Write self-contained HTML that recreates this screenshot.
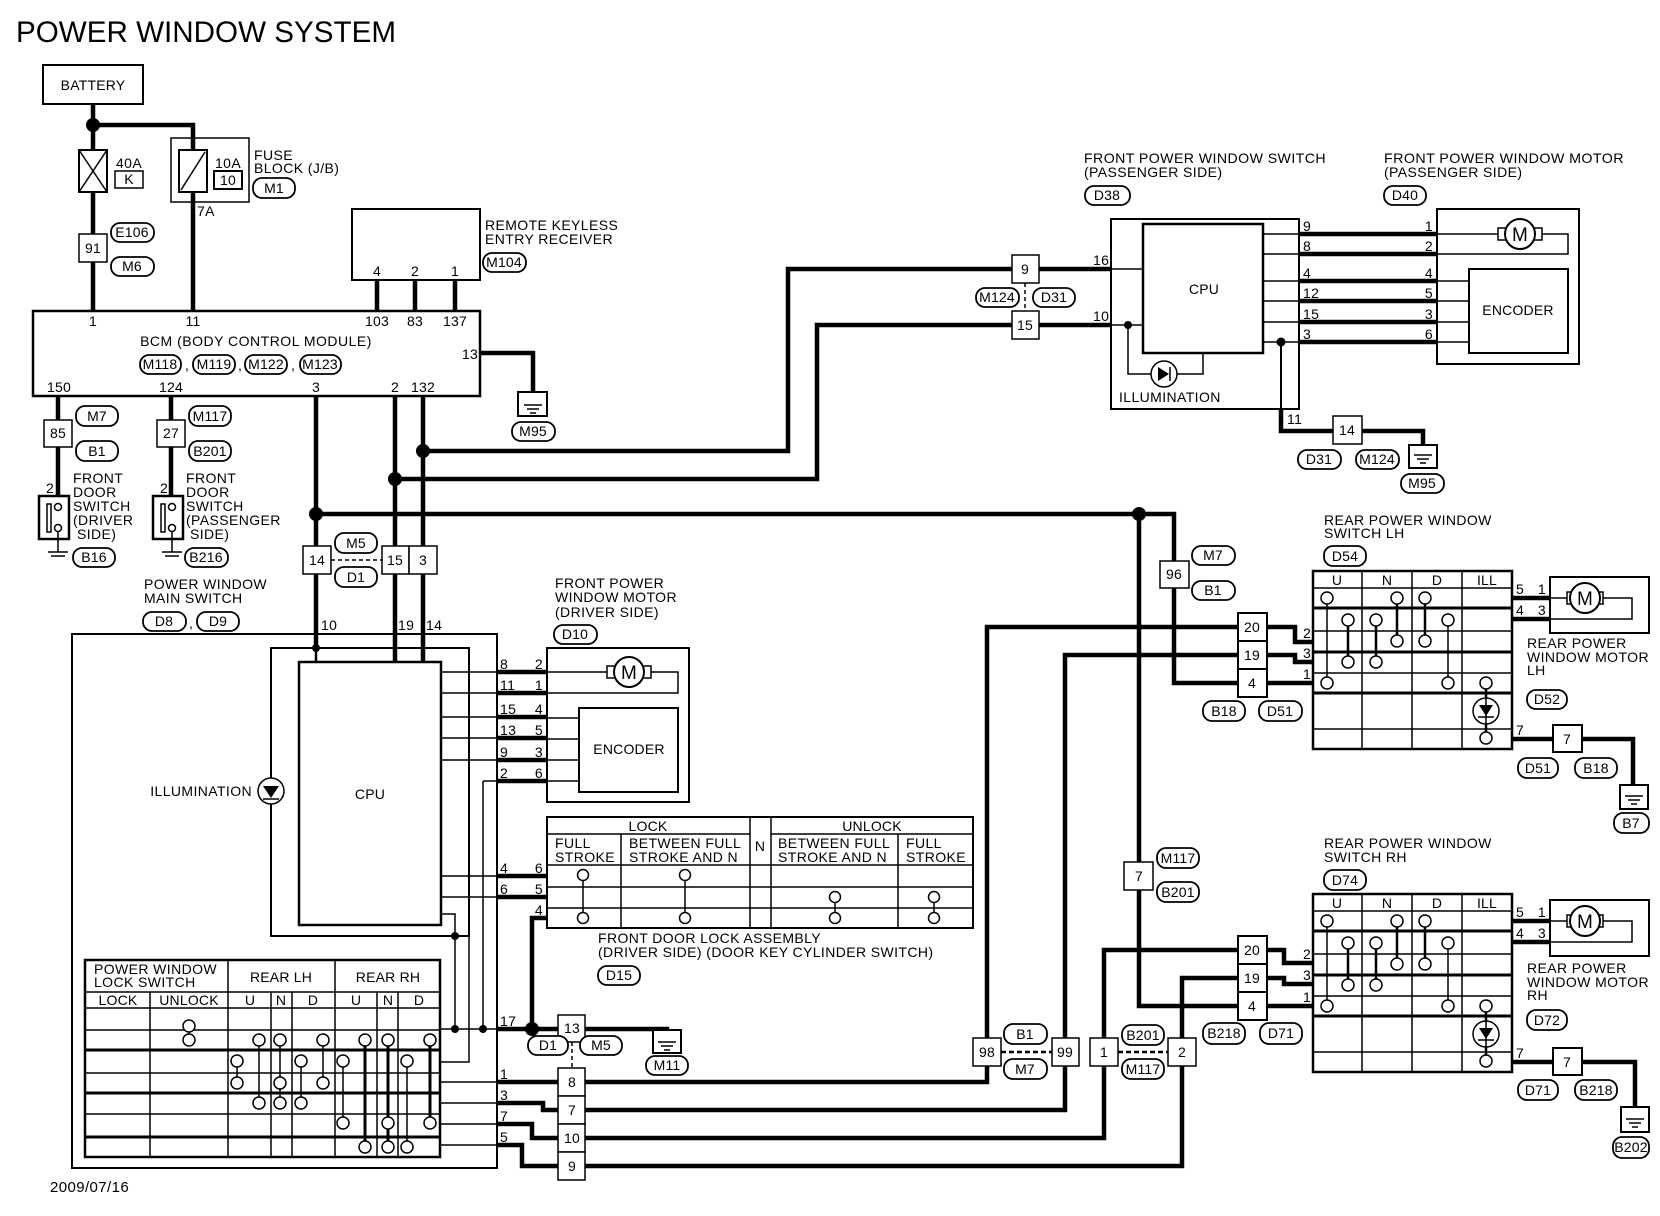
<!DOCTYPE html>
<html><head><meta charset="utf-8"><style>
body{margin:0;background:#fff}
svg{display:block}
text{font-family:"Liberation Sans",sans-serif;font-size:14px;letter-spacing:0.4px;fill:#000}
.c{text-anchor:middle;letter-spacing:0.2px}
.e{text-anchor:end}
.o{fill:#fff;stroke:#000;stroke-width:1.8}
.b{fill:#fff;stroke:#000;stroke-width:1.5}
.n{fill:none;stroke:#000;stroke-width:1.5}
.k{fill:none;stroke:#000;stroke-width:4.5}
.m{fill:none;stroke:#000;stroke-width:2.5}
.ci{fill:#fff;stroke:#000;stroke-width:1.5}
</style></head><body>
<svg width="1660" height="1216" viewBox="0 0 1660 1216" xmlns="http://www.w3.org/2000/svg">
<rect width="1660" height="1216" fill="#fff"/>
<text x="16" y="42" style="font-size:30px;letter-spacing:0" textLength="380" lengthAdjust="spacingAndGlyphs">POWER WINDOW SYSTEM</text>

<!-- battery & fuses -->
<rect x="43" y="65" width="100" height="39" class="n" style="stroke-width:2"/>
<text x="93" y="90" class="c" style="font-size:14px">BATTERY</text>
<path d="M93 104V150M93 192V311M93 125H193V311" class="k"/>
<circle cx="93" cy="125" r="7"/>
<rect x="79" y="150" width="28" height="42" class="b" style="stroke-width:2"/>
<path d="M79 150L107 192M107 150L79 192" class="n"/>
<text x="116" y="168">40A</text>
<rect x="115" y="171" width="28" height="17" class="b"/><text x="129" y="184" class="c">K</text>
<rect x="79" y="234" width="28" height="28" class="b"/><text x="93" y="253" class="c">91</text>
<rect x="111" y="223" width="43" height="19" rx="9" class="o"/><text x="132" y="237" class="c">E106</text>
<rect x="111" y="257" width="43" height="19" rx="9" class="o"/><text x="132" y="271" class="c">M6</text>
<rect x="171" y="138" width="78" height="64" class="b" style="fill:none"/>
<rect x="179" y="150" width="28" height="42" class="b" style="stroke-width:2"/>
<path d="M181 190L205 152" class="n"/>
<text x="215" y="168">10A</text>
<rect x="214" y="171" width="28" height="18" class="b" style="stroke-width:2"/><text x="228" y="185" class="c">10</text>
<text x="254" y="160">FUSE</text><text x="254" y="173">BLOCK (J/B)</text>
<rect x="253" y="178" width="42" height="20" rx="9" class="o"/><text x="274" y="193" class="c">M1</text>
<text x="197" y="216">7A</text>

<!-- remote keyless -->
<rect x="352" y="209" width="128" height="71" class="n" style="stroke-width:2"/>
<text x="377" y="276" class="c">4</text><text x="415" y="276" class="c">2</text><text x="455" y="276" class="c">1</text>
<path d="M377 280V311M415 280V311M455 280V311" class="k"/>
<text x="485" y="230">REMOTE KEYLESS</text><text x="485" y="244">ENTRY RECEIVER</text>
<rect x="483" y="253" width="43" height="19" rx="9" class="o"/><text x="504" y="267" class="c">M104</text>

<!-- BCM -->
<rect x="33" y="311" width="447" height="85" class="n" style="stroke-width:2.5"/>
<text x="93" y="326" class="c">1</text><text x="193" y="326" class="c">11</text><text x="377" y="326" class="c">103</text><text x="415" y="326" class="c">83</text><text x="455" y="326" class="c">137</text>
<text x="256" y="346" class="c" style="letter-spacing:0.5px">BCM (BODY CONTROL MODULE)</text>
<rect x="140" y="355" width="41" height="19" rx="9" class="o"/><text x="160" y="369" class="c">M118</text><text x="185" y="370">,</text>
<rect x="193" y="355" width="42" height="19" rx="9" class="o"/><text x="214" y="369" class="c">M119</text><text x="238" y="370">,</text>
<rect x="245" y="355" width="42" height="19" rx="9" class="o"/><text x="266" y="369" class="c">M122</text><text x="291" y="370">,</text>
<rect x="300" y="355" width="41" height="19" rx="9" class="o"/><text x="320" y="369" class="c">M123</text>
<text x="470" y="359" class="c">13</text>
<text x="59" y="392" class="c">150</text><text x="171" y="392" class="c">124</text><text x="316" y="392" class="c">3</text><text x="395" y="392" class="c">2</text><text x="423" y="392" class="c">132</text>
<path d="M480 353H533V405" class="k"/>
<rect x="518" y="392" width="29" height="24" class="b" style="stroke-width:2"/>
<path d="M524 405H542M527 409H539M530 413H536" class="n"/>
<rect x="512" y="422" width="43" height="19" rx="9" class="o"/><text x="533" y="436" class="c">M95</text>

<!-- door switches -->
<path d="M58 396V496M171 396V496" class="k"/>
<rect x="44" y="420" width="28" height="27" class="b"/><text x="58" y="438" class="c">85</text>
<rect x="76" y="406" width="42" height="20" rx="9" class="o"/><text x="97" y="421" class="c">M7</text>
<rect x="76" y="441" width="42" height="20" rx="9" class="o"/><text x="97" y="456" class="c">B1</text>
<rect x="157" y="420" width="28" height="27" class="b"/><text x="171" y="438" class="c">27</text>
<rect x="189" y="406" width="42" height="20" rx="9" class="o"/><text x="210" y="421" class="c">M117</text>
<rect x="189" y="441" width="42" height="20" rx="9" class="o"/><text x="210" y="456" class="c">B201</text>
<rect x="39" y="496" width="30" height="43" class="n" style="stroke-width:2.5"/>
<rect x="47" y="504" width="4" height="28" class="b"/>
<circle cx="58" cy="507" r="3.5" class="ci"/><circle cx="58" cy="528" r="3.5" class="ci"/>
<path d="M58 531V552M48 552H68M51 556H65" class="n"/>
<text x="50" y="493" class="c">2</text>
<text x="73" y="483">FRONT</text><text x="73" y="497">DOOR</text><text x="73" y="511">SWITCH</text><text x="73" y="525">(DRIVER</text><text x="77" y="539">SIDE)</text>
<rect x="73" y="548" width="42" height="19" rx="9" class="o"/><text x="94" y="562" class="c">B16</text>
<rect x="153" y="496" width="30" height="43" class="n" style="stroke-width:2.5"/>
<rect x="161" y="504" width="4" height="28" class="b"/>
<circle cx="172" cy="507" r="3.5" class="ci"/><circle cx="172" cy="528" r="3.5" class="ci"/>
<path d="M172 531V552M162 552H182M165 556H179" class="n"/>
<text x="164" y="493" class="c">2</text>
<text x="186" y="483">FRONT</text><text x="186" y="497">DOOR</text><text x="186" y="511">SWITCH</text><text x="186" y="525">(PASSENGER</text><text x="190" y="539">SIDE)</text>
<rect x="185" y="548" width="43" height="19" rx="9" class="o"/><text x="206" y="562" class="c">B216</text>

<!-- BCM output wires -->
<path d="M316 396V648M395 396V662M423 396V662" class="k"/>
<path d="M423 451H788V269H1012M1039 269H1111M395 479H817V325H1012M1039 325H1111M316 514H1174V683H1238M1139 514V1006H1238" class="k"/>
<circle cx="423" cy="451" r="7"/><circle cx="395" cy="479" r="7"/><circle cx="316" cy="514" r="7"/><circle cx="1139" cy="514" r="7"/>
<rect x="303" y="546" width="28" height="28" class="b"/><text x="317" y="565" class="c">14</text>
<rect x="382" y="546" width="27" height="28" class="b"/><text x="395" y="565" class="c">15</text>
<rect x="409" y="546" width="28" height="28" class="b"/><text x="423" y="565" class="c">3</text>
<path d="M331 560H382" class="n" style="stroke-dasharray:4 3"/>
<rect x="335" y="533" width="42" height="20" rx="9" class="o"/><text x="356" y="548" class="c">M5</text>
<rect x="335" y="567" width="42" height="20" rx="9" class="o"/><text x="356" y="582" class="c">D1</text>
<text x="144" y="589">POWER WINDOW</text><text x="144" y="603">MAIN SWITCH</text>
<rect x="143" y="612" width="43" height="19" rx="9" class="o"/><text x="164" y="626" class="c">D8</text><text x="189" y="628">,</text>
<rect x="197" y="612" width="42" height="19" rx="9" class="o"/><text x="218" y="626" class="c">D9</text>

<!-- main switch -->
<rect x="72" y="634" width="425" height="534" class="n" style="stroke-width:2"/>
<text x="321" y="630">10</text><text x="398" y="630">19</text><text x="426" y="630">14</text>
<rect x="271" y="648" width="198" height="288" class="n" style="stroke-width:2"/>
<circle cx="316" cy="648" r="4"/>
<path d="M316 648V662" class="m"/>
<rect x="299" y="662" width="142" height="263" class="n" style="stroke-width:2.5"/>
<text x="370" y="799" class="c">CPU</text>
<text x="252" y="796" class="e">ILLUMINATION</text>
<circle cx="271" cy="791" r="13" class="ci"/>
<path d="M263 786H279L271 798Z"/><path d="M263 799H279" class="n"/>
<path d="M441 672H497M441 693H497M441 717H497M441 738H497M441 760H497M483 781H497M483 781V1029M441 876H497M441 897H497M441 914H455V1029M469 936V1062H440" class="n"/>
<circle cx="455" cy="936" r="4"/><circle cx="455" cy="1029" r="4"/><circle cx="483" cy="1029" r="4"/>
<path d="M497 672H547M497 693H547M497 717H547M497 738H547M497 760H547M497 781H547M497 876H547M497 897H547M547 918H532V1029M497 1029H558" class="k"/>
<circle cx="532" cy="1029" r="7"/>
<g>
<text x="500" y="669">8</text><text x="543" y="669" class="e">2</text>
<text x="500" y="690">11</text><text x="543" y="690" class="e">1</text>
<text x="500" y="714">15</text><text x="543" y="714" class="e">4</text>
<text x="500" y="735">13</text><text x="543" y="735" class="e">5</text>
<text x="500" y="757">9</text><text x="543" y="757" class="e">3</text>
<text x="500" y="778">2</text><text x="543" y="778" class="e">6</text>
<text x="500" y="873">4</text><text x="543" y="873" class="e">6</text>
<text x="500" y="894">6</text><text x="543" y="894" class="e">5</text>
<text x="543" y="915" class="e">4</text>
<text x="500" y="1026">17</text>
</g>

<!-- front motor driver -->
<text x="555" y="588">FRONT POWER</text><text x="555" y="602">WINDOW MOTOR</text><text x="555" y="617">(DRIVER SIDE)</text>
<rect x="554" y="625" width="43" height="19" rx="9" class="o"/><text x="575" y="639" class="c">D10</text>
<rect x="547" y="648" width="142" height="154" class="n" style="stroke-width:2"/>
<path d="M547 672H607M651 672H678V693H547" class="n"/>
<rect x="607" y="666" width="8" height="12" class="b"/><rect x="643" y="666" width="8" height="12" class="b"/>
<circle cx="629" cy="672" r="15" class="ci" style="stroke-width:2"/><text x="629" y="679" class="c" style="font-size:19px">M</text>
<rect x="579" y="708" width="99" height="84" class="n" style="stroke-width:2"/>
<path d="M547 718H579M547 739H579M547 760H579M547 781H579" class="n"/>
<text x="629" y="754" class="c">ENCODER</text>

<!-- door lock table -->
<rect x="547" y="817" width="426" height="111" class="n" style="stroke-width:2"/>
<path d="M547 834H750M771 834H973M547 865H973M547 887H973M547 908H973M621 834V928M750 817V928M771 817V928M898 834V928" class="n"/>
<text x="648" y="831" class="c">LOCK</text><text x="872" y="831" class="c">UNLOCK</text><text x="760" y="851" class="c">N</text>
<text x="555" y="848">FULL</text><text x="555" y="862">STROKE</text>
<text x="629" y="848">BETWEEN FULL</text><text x="629" y="862">STROKE AND N</text>
<text x="778" y="848">BETWEEN FULL</text><text x="778" y="862">STROKE AND N</text>
<text x="906" y="848">FULL</text><text x="906" y="862">STROKE</text>
<path d="M583 875V918M685 875V918M835 897V918M934 897V918" class="n"/>
<circle cx="583" cy="875" r="5.5" class="ci"/><circle cx="583" cy="918" r="5.5" class="ci"/>
<circle cx="685" cy="875" r="5.5" class="ci"/><circle cx="685" cy="918" r="5.5" class="ci"/>
<circle cx="835" cy="897" r="5.5" class="ci"/><circle cx="835" cy="918" r="5.5" class="ci"/>
<circle cx="934" cy="897" r="5.5" class="ci"/><circle cx="934" cy="918" r="5.5" class="ci"/>
<text x="598" y="943">FRONT DOOR LOCK ASSEMBLY</text><text x="598" y="957">(DRIVER SIDE) (DOOR KEY CYLINDER SWITCH)</text>
<rect x="598" y="966" width="42" height="19" rx="9" class="o"/><text x="619" y="980" class="c">D15</text>

<!-- lock switch table -->
<rect x="85" y="960" width="355" height="197" class="n" style="stroke-width:2.5"/>
<path d="M85 992H440M85 1008H440M85 1030H440M85 1073H440M85 1114H440M150 992V1157M228 960V1157M335 960V1157M271 992V1157M292 992V1157M377 992V1157M398 992V1157" class="n"/>
<path d="M85 1050H440M85 1093H440M85 1137H440" class="n" style="stroke-width:3"/>
<text x="94" y="974">POWER WINDOW</text><text x="94" y="987">LOCK SWITCH</text>
<text x="281" y="982" class="c">REAR LH</text><text x="388" y="982" class="c">REAR RH</text>
<text x="118" y="1005" class="c">LOCK</text><text x="189" y="1005" class="c">UNLOCK</text>
<text x="250" y="1005" class="c">U</text><text x="281" y="1005" class="c">N</text><text x="313" y="1005" class="c">D</text>
<text x="356" y="1005" class="c">U</text><text x="388" y="1005" class="c">N</text><text x="419" y="1005" class="c">D</text>
<path d="M189 1026V1040M237 1061V1083M259 1040V1103M280 1040V1103M301 1061V1103M323 1040V1083M343 1061V1123M407 1061V1147" class="n"/>
<path d="M365 1040V1147M388 1040V1147M430 1040V1123" class="n" style="stroke-width:3"/>
<g class="ci">
<circle cx="189" cy="1026" r="6"/><circle cx="189" cy="1040" r="6"/>
<circle cx="259" cy="1040" r="6"/><circle cx="280" cy="1040" r="6"/><circle cx="323" cy="1040" r="6"/><circle cx="365" cy="1040" r="6"/><circle cx="388" cy="1040" r="6"/><circle cx="430" cy="1040" r="6"/>
<circle cx="237" cy="1061" r="6"/><circle cx="301" cy="1061" r="6"/><circle cx="343" cy="1061" r="6"/><circle cx="407" cy="1061" r="6"/>
<circle cx="237" cy="1083" r="6"/><circle cx="280" cy="1083" r="6"/><circle cx="323" cy="1083" r="6"/>
<circle cx="259" cy="1103" r="6"/><circle cx="280" cy="1103" r="6"/><circle cx="301" cy="1103" r="6"/>
<circle cx="343" cy="1123" r="6"/><circle cx="388" cy="1123" r="6"/><circle cx="430" cy="1123" r="6"/>
<circle cx="365" cy="1147" r="6"/><circle cx="388" cy="1147" r="6"/><circle cx="407" cy="1147" r="6"/>
</g>
<path d="M440 1029H497M440 1082H497M440 1103H497M440 1124H497M440 1145H497" class="n"/>
<path d="M497 1082H558M497 1103H543V1110H558M497 1124H532V1138H558M497 1145H522V1166H558" class="k"/>
<text x="500" y="1079">1</text><text x="500" y="1100">3</text><text x="500" y="1121">7</text><text x="500" y="1142">5</text>

<!-- connectors bottom -->
<rect x="558" y="1015" width="27" height="27" class="b"/><text x="572" y="1033" class="c">13</text>
<path d="M572 1042V1068" class="n" style="stroke-dasharray:4 3"/>
<rect x="528" y="1036" width="40" height="19" rx="9" class="o"/><text x="548" y="1050" class="c">D1</text>
<rect x="580" y="1036" width="42" height="19" rx="9" class="o"/><text x="601" y="1050" class="c">M5</text>
<path d="M585 1029H667V1042" class="k"/>
<rect x="653" y="1030" width="28" height="23" class="b" style="stroke-width:2"/>
<path d="M658 1042H676M661 1046H673M664 1050H670" class="n"/>
<rect x="646" y="1056" width="42" height="19" rx="9" class="o"/><text x="667" y="1070" class="c">M11</text>
<rect x="558" y="1068" width="27" height="28" class="b"/><text x="572" y="1087" class="c">8</text>
<rect x="558" y="1096" width="27" height="28" class="b"/><text x="572" y="1115" class="c">7</text>
<rect x="558" y="1124" width="27" height="28" class="b"/><text x="572" y="1143" class="c">10</text>
<rect x="558" y="1152" width="27" height="28" class="b"/><text x="572" y="1171" class="c">9</text>
<path d="M585 1082H987V1066M585 1110H1065V1066M585 1138H1104V1066M585 1166H1182V1066" class="k"/>
<path d="M987 1038V627H1238M1065 1038V655H1238M1104 1038V950H1238M1182 1038V978H1238" class="k"/>
<rect x="973" y="1038" width="28" height="28" class="b"/><text x="987" y="1057" class="c">98</text>
<rect x="1052" y="1038" width="27" height="28" class="b"/><text x="1065" y="1057" class="c">99</text>
<path d="M1001 1052H1052M1118 1052H1168" class="n" style="stroke-dasharray:5 3;stroke-width:2.5"/>
<rect x="1004" y="1024" width="43" height="20" rx="9" class="o"/><text x="1025" y="1039" class="c">B1</text>
<rect x="1004" y="1059" width="43" height="20" rx="9" class="o"/><text x="1025" y="1074" class="c">M7</text>
<rect x="1090" y="1038" width="28" height="28" class="b"/><text x="1104" y="1057" class="c">1</text>
<rect x="1168" y="1038" width="28" height="28" class="b"/><text x="1182" y="1057" class="c">2</text>
<rect x="1122" y="1025" width="42" height="20" rx="9" class="o"/><text x="1143" y="1040" class="c">B201</text>
<rect x="1122" y="1059" width="42" height="20" rx="9" class="o"/><text x="1143" y="1074" class="c">M117</text>

<!-- middle connectors 96 / 7 -->
<rect x="1160" y="561" width="29" height="27" class="b"/><text x="1174" y="579" class="c">96</text>
<rect x="1192" y="546" width="43" height="19" rx="9" class="o"/><text x="1213" y="560" class="c">M7</text>
<rect x="1192" y="581" width="43" height="19" rx="9" class="o"/><text x="1213" y="595" class="c">B1</text>
<rect x="1124" y="862" width="29" height="28" class="b"/><text x="1139" y="881" class="c">7</text>
<rect x="1157" y="848" width="42" height="20" rx="9" class="o"/><text x="1178" y="863" class="c">M117</text>
<rect x="1157" y="882" width="42" height="20" rx="9" class="o"/><text x="1178" y="897" class="c">B201</text>

<!-- front passenger switch -->
<text x="1084" y="163" textLength="242" lengthAdjust="spacingAndGlyphs">FRONT POWER WINDOW SWITCH</text>
<text x="1084" y="177">(PASSENGER SIDE)</text>
<rect x="1085" y="186" width="45" height="19" rx="9" class="o"/><text x="1107" y="200" class="c">D38</text>
<text x="1384" y="163" textLength="240" lengthAdjust="spacingAndGlyphs">FRONT POWER WINDOW MOTOR</text>
<text x="1384" y="177">(PASSENGER SIDE)</text>
<rect x="1384" y="186" width="42" height="19" rx="9" class="o"/><text x="1405" y="200" class="c">D40</text>
<rect x="1012" y="255" width="27" height="28" class="b"/><text x="1025" y="274" class="c">9</text>
<rect x="1012" y="311" width="27" height="28" class="b"/><text x="1025" y="330" class="c">15</text>
<path d="M1025 283V311" class="n" style="stroke-dasharray:4 3"/>
<rect x="976" y="288" width="43" height="19" rx="9" class="o"/><text x="997" y="302" class="c">M124</text>
<rect x="1033" y="288" width="42" height="19" rx="9" class="o"/><text x="1054" y="302" class="c">D31</text>
<text x="1093" y="265">16</text><text x="1093" y="321">10</text>
<rect x="1111" y="219" width="188" height="190" class="n" style="stroke-width:2"/>
<rect x="1143" y="224" width="120" height="129" class="n" style="stroke-width:2.5"/>
<text x="1204" y="294" class="c">CPU</text>
<path d="M1111 269H1143M1111 325H1143M1128 325V374H1151M1177 374H1203V353M1263 234H1299M1263 254H1299M1263 281H1299M1263 301H1299M1263 322H1299M1263 342H1299" class="n"/>
<circle cx="1128" cy="325" r="4"/>
<circle cx="1164" cy="374" r="13" class="ci"/>
<path d="M1158 367V381L1169 374Z"/><path d="M1170 367V381" class="n"/>
<text x="1119" y="402">ILLUMINATION</text>
<path d="M1299 234H1437M1299 254H1437M1299 281H1437M1299 301H1437M1299 322H1437M1299 342H1437" class="k"/>
<circle cx="1281" cy="342" r="4.5"/>
<path d="M1281 342V409" class="n" style="stroke-width:2"/>
<path d="M1281 409V431H1333M1362 431H1423V455" class="k"/>
<text x="1287" y="424">11</text>
<rect x="1333" y="416" width="29" height="28" class="b"/><text x="1347" y="435" class="c">14</text>
<rect x="1409" y="445" width="28" height="23" class="b" style="stroke-width:2"/>
<path d="M1414 455H1432M1417 459H1429M1420 463H1426" class="n"/>
<rect x="1298" y="450" width="43" height="19" rx="9" class="o"/><text x="1319" y="464" class="c">D31</text>
<rect x="1356" y="450" width="43" height="19" rx="9" class="o"/><text x="1377" y="464" class="c">M124</text>
<rect x="1401" y="474" width="43" height="19" rx="9" class="o"/><text x="1422" y="488" class="c">M95</text>
<g>
<text x="1303" y="231">9</text><text x="1433" y="231" class="e">1</text>
<text x="1303" y="251">8</text><text x="1433" y="251" class="e">2</text>
<text x="1303" y="278">4</text><text x="1433" y="278" class="e">4</text>
<text x="1303" y="298">12</text><text x="1433" y="298" class="e">5</text>
<text x="1303" y="319">15</text><text x="1433" y="319" class="e">3</text>
<text x="1303" y="339">3</text><text x="1433" y="339" class="e">6</text>
</g>
<rect x="1437" y="209" width="142" height="155" class="n" style="stroke-width:2"/>
<path d="M1437 234H1498M1542 234H1568V254H1437" class="n"/>
<rect x="1498" y="228" width="8" height="12" class="b"/><rect x="1534" y="228" width="8" height="12" class="b"/>
<circle cx="1520" cy="234" r="15" class="ci" style="stroke-width:2"/><text x="1520" y="241" class="c" style="font-size:19px">M</text>
<rect x="1469" y="269" width="99" height="84" class="n" style="stroke-width:2"/>
<path d="M1437 281H1469M1437 301H1469M1437 322H1469M1437 342H1469" class="n"/>
<text x="1518" y="315" class="c">ENCODER</text>

<!-- rear LH -->
<rect x="1238" y="613" width="29" height="28" class="b" style="stroke-width:2"/><text x="1252" y="632" class="c">20</text>
<rect x="1238" y="641" width="29" height="28" class="b" style="stroke-width:2"/><text x="1252" y="660" class="c">19</text>
<rect x="1238" y="669" width="29" height="28" class="b" style="stroke-width:2"/><text x="1252" y="688" class="c">4</text>
<path d="M1267 627H1295V642H1313M1267 655H1295V662H1313M1267 683H1313" class="k"/>
<text x="1303" y="638">2</text><text x="1303" y="658">3</text><text x="1303" y="679">1</text>
<rect x="1203" y="701" width="42" height="20" rx="9" class="o"/><text x="1224" y="716" class="c">B18</text>
<rect x="1259" y="701" width="43" height="20" rx="9" class="o"/><text x="1280" y="716" class="c">D51</text>
<text x="1324" y="525">REAR POWER WINDOW</text><text x="1324" y="538">SWITCH LH</text>
<rect x="1324" y="546" width="42" height="20" rx="9" class="o"/><text x="1345" y="561" class="c">D54</text>
<g id="rlh">
<rect x="1313" y="571" width="199" height="178" class="n" style="stroke-width:2.5"/>
<path d="M1313 588H1512M1313 631H1512M1313 673H1512M1313 729H1512M1362 571V749M1412 571V749M1462 571V749" class="n"/>
<path d="M1313 608H1512M1313 652H1512M1313 693H1512" class="n" style="stroke-width:3"/>
<text x="1337" y="585" class="c">U</text><text x="1387" y="585" class="c">N</text><text x="1437" y="585" class="c">D</text><text x="1487" y="585" class="c">ILL</text>
<path d="M1327 598V683M1448 620V683" class="n"/>
<path d="M1348 620V662M1376 620V662M1397 598V641M1425 598V641M1486 683V738" class="n" style="stroke-width:2.5"/>
<g class="ci">
<circle cx="1327" cy="598" r="6"/><circle cx="1397" cy="598" r="6"/><circle cx="1425" cy="598" r="6"/>
<circle cx="1348" cy="620" r="6"/><circle cx="1376" cy="620" r="6"/><circle cx="1448" cy="620" r="6"/>
<circle cx="1397" cy="641" r="6"/><circle cx="1425" cy="641" r="6"/>
<circle cx="1348" cy="662" r="6"/><circle cx="1376" cy="662" r="6"/>
<circle cx="1327" cy="683" r="6"/><circle cx="1448" cy="683" r="6"/><circle cx="1486" cy="683" r="6"/>
<circle cx="1486" cy="711" r="13"/><circle cx="1486" cy="738" r="6"/>
</g>
<path d="M1479 705H1493L1486 716Z"/><path d="M1478 717H1494M1486 690V731" class="n"/>
</g>
<path d="M1512 598H1550M1512 619H1550M1512 739H1553M1582 739H1633V796" class="k"/>
<text x="1516" y="594">5</text><text x="1546" y="594" class="e">1</text><text x="1516" y="615">4</text><text x="1546" y="615" class="e">3</text><text x="1516" y="735">7</text>
<rect x="1550" y="577" width="99" height="56" class="n" style="stroke-width:2"/>
<path d="M1550 598H1567M1603 598H1632V619H1550" class="n"/>
<rect x="1567" y="592" width="8" height="12" class="b"/><rect x="1595" y="592" width="8" height="12" class="b"/>
<circle cx="1585" cy="598" r="15" class="ci" style="stroke-width:2"/><text x="1585" y="605" class="c" style="font-size:19px">M</text>
<text x="1527" y="648">REAR POWER</text><text x="1527" y="662">WINDOW MOTOR</text><text x="1527" y="675">LH</text>
<rect x="1527" y="690" width="40" height="19" rx="9" class="o"/><text x="1547" y="704" class="c">D52</text>
<rect x="1553" y="725" width="29" height="27" class="b" style="stroke-width:2"/><text x="1567" y="744" class="c">7</text>
<rect x="1518" y="758" width="40" height="20" rx="9" class="o"/><text x="1538" y="773" class="c">D51</text>
<rect x="1575" y="758" width="42" height="20" rx="9" class="o"/><text x="1596" y="773" class="c">B18</text>
<rect x="1620" y="785" width="28" height="24" class="b" style="stroke-width:2"/>
<path d="M1625 796H1643M1628 800H1640M1631 804H1637" class="n"/>
<rect x="1614" y="813" width="35" height="20" rx="9" class="o"/><text x="1631" y="828" class="c">B7</text>

<!-- rear RH -->
<rect x="1238" y="936" width="29" height="28" class="b" style="stroke-width:2"/><text x="1252" y="955" class="c">20</text>
<rect x="1238" y="964" width="29" height="28" class="b" style="stroke-width:2"/><text x="1252" y="983" class="c">19</text>
<rect x="1238" y="992" width="29" height="28" class="b" style="stroke-width:2"/><text x="1252" y="1011" class="c">4</text>
<path d="M1267 950H1284V963H1313M1267 978H1284V984H1313M1267 1006H1313" class="k"/>
<text x="1303" y="959">2</text><text x="1303" y="980">3</text><text x="1303" y="1002">1</text>
<rect x="1203" y="1023" width="42" height="21" rx="9" class="o"/><text x="1224" y="1038" class="c">B218</text>
<rect x="1260" y="1023" width="42" height="21" rx="9" class="o"/><text x="1281" y="1038" class="c">D71</text>
<text x="1324" y="848">REAR POWER WINDOW</text><text x="1324" y="862">SWITCH RH</text>
<rect x="1324" y="870" width="42" height="20" rx="9" class="o"/><text x="1345" y="885" class="c">D74</text>
<use href="#rlh" transform="translate(0,323)"/>
<path d="M1512 921H1550M1512 942H1550M1512 1062H1553M1582 1062H1635V1119" class="k"/>
<text x="1516" y="917">5</text><text x="1546" y="917" class="e">1</text><text x="1516" y="938">4</text><text x="1546" y="938" class="e">3</text><text x="1516" y="1058">7</text>
<rect x="1550" y="900" width="99" height="56" class="n" style="stroke-width:2"/>
<path d="M1550 921H1567M1603 921H1632V942H1550" class="n"/>
<rect x="1567" y="915" width="8" height="12" class="b"/><rect x="1595" y="915" width="8" height="12" class="b"/>
<circle cx="1585" cy="921" r="15" class="ci" style="stroke-width:2"/><text x="1585" y="928" class="c" style="font-size:19px">M</text>
<text x="1527" y="973">REAR POWER</text><text x="1527" y="987">WINDOW MOTOR</text><text x="1527" y="1000">RH</text>
<rect x="1527" y="1010" width="40" height="20" rx="9" class="o"/><text x="1547" y="1025" class="c">D72</text>
<rect x="1553" y="1048" width="29" height="27" class="b" style="stroke-width:2"/><text x="1567" y="1067" class="c">7</text>
<rect x="1518" y="1080" width="40" height="20" rx="9" class="o"/><text x="1538" y="1095" class="c">D71</text>
<rect x="1575" y="1080" width="42" height="20" rx="9" class="o"/><text x="1596" y="1095" class="c">B218</text>
<rect x="1621" y="1107" width="28" height="25" class="b" style="stroke-width:2"/>
<path d="M1626 1119H1644M1629 1123H1641M1632 1127H1638" class="n"/>
<rect x="1613" y="1137" width="36" height="21" rx="9" class="o"/><text x="1631" y="1152" class="c">B202</text>

<text x="50" y="1192" style="font-size:15px">2009/07/16</text>
</svg>
</body></html>
